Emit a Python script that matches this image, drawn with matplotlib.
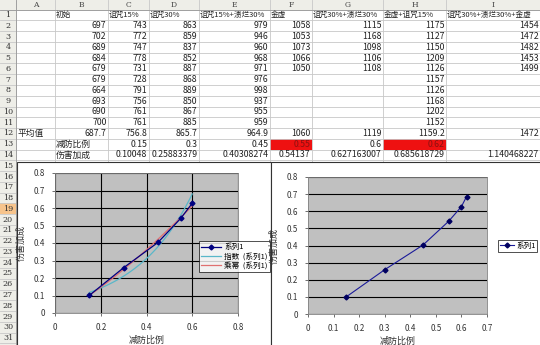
import numpy as np
import matplotlib
matplotlib.use("Agg")
import matplotlib.pyplot as plt
from matplotlib.patches import Rectangle

plt.rcParams['font.family'] = ['Noto Sans CJK SC', 'DejaVu Sans']

# ---------------- data ----------------
col_letters = ["A", "B", "C", "D", "E", "F", "G", "H", "I"]
headers = ["", "初始", "诅咒15%", "诅咒30%", "诅咒15%+溃烂30%", "金虚",
           "诅咒30%+溃烂30%", "金虚+诅咒15%", "诅咒30%+溃烂30%+金虚"]
col_B = [697, 702, 689, 684, 679, 679, 664, 693, 690, 700]
col_C = [743, 772, 747, 778, 731, 728, 791, 756, 761, 761]
col_D = [863, 859, 837, 852, 887, 868, 889, 850, 867, 885]
col_E = [979, 946, 960, 968, 971, 976, 998, 937, 955, 959]
col_F = [1058, 1053, 1073, 1066, 1050]
col_G = [1115, 1168, 1098, 1106, 1108]
col_H = [1175, 1127, 1150, 1209, 1126, 1157, 1126, 1168, 1202, 1152]
col_I = [1454, 1472, 1482, 1453, 1499]
averages = ["687.7", "756.8", "865.7", "964.9", "1060", "1119", "1159.2", "1472"]
def_ratio = [0.15, 0.3, 0.45, 0.55, 0.6, 0.62]
def_ratio_txt = ["0.15", "0.3", "0.45", "0.55", "0.6", "0.62"]
dmg_bonus = [0.10048, 0.25883379, 0.40308274, 0.54137, 0.627163007, 0.685618729]
dmg_bonus_txt = ["0.10048", "0.25883379", "0.40308274", "0.54137",
                 "0.627163007", "0.685618729", "1.140468227"]
left_n = 5  # left chart uses first 5 points
x_ticks_left = [0, 0.2, 0.4, 0.6, 0.8]
x_ticks_right = [0, 0.1, 0.2, 0.3, 0.4, 0.5, 0.6, 0.7]
y_ticks = [0, 0.1, 0.2, 0.3, 0.4, 0.5, 0.6, 0.7, 0.8]

W, H = 540, 345
fig = plt.figure(figsize=(W / 100, H / 100), dpi=100)
base = fig.add_axes([0, 0, 1, 1])
base.set_xlim(0, W)
base.set_ylim(H, 0)
base.axis('off')


def rect(x0, y0, x1, y1):
    return [x0 / W, 1 - y1 / H, (x1 - x0) / W, (y1 - y0) / H]


col_edges = [16, 55, 108, 149, 199, 270, 312, 383, 446, 540]
hdr_h = 9.6
row_h = 10.77
def row_top(i):
    return hdr_h + (i - 1) * row_h
def row_mid(i):
    return row_top(i) + row_h / 2

grid_c = '#c8c8c8'
hdr_bg = '#eeeee8'
# header backgrounds
base.add_patch(Rectangle((0, 0), W, hdr_h, facecolor=hdr_bg, edgecolor='none', zorder=1))
base.add_patch(Rectangle((0, 0), 16, H, facecolor=hdr_bg, edgecolor='none', zorder=1))
base.add_patch(Rectangle((0, row_top(19)), 16, row_h, facecolor='#f7c48c', edgecolor='none', zorder=1.5))
# red cells
for ci in (5, 7):
    base.add_patch(Rectangle((col_edges[ci], row_top(13)), col_edges[ci + 1] - col_edges[ci], row_h,
                             facecolor='#ee1111', edgecolor='none', zorder=1.5))

# grid lines
for x in col_edges:
    base.plot([x, x], [0, H], color=grid_c, lw=0.6, zorder=2)
for i in range(1, 34):
    y = row_top(i)
    base.plot([0, W], [y, y], color=grid_c, lw=0.6, zorder=2)
base.plot([0, W], [hdr_h, hdr_h], color='#999999', lw=0.6, zorder=2)
base.plot([16, 16], [0, H], color='#999999', lw=0.6, zorder=2)

fs = 6.3
tc = '#222222'
# column letters
for k, L in enumerate(col_letters):
    base.text((col_edges[k] + col_edges[k + 1]) / 2, hdr_h / 2, L, ha='center', va='center',
              fontsize=5.5, color='#444444', zorder=3, family=['DejaVu Serif'])
# row numbers
for i in range(1, 32):
    base.text(8, row_mid(i), str(i), ha='center', va='center', fontsize=5.8, color='#333333',
              zorder=3, family=['DejaVu Serif'])


def put(ci, ri, s, align='right', color=tc, size=fs):
    if align == 'right':
        base.text(col_edges[ci + 1] - 1.5, row_mid(ri), s, ha='right', va='center',
                  fontsize=size, color=color, zorder=3)
    else:
        base.text(col_edges[ci] + 1.0, row_mid(ri), s, ha='left', va='center',
                  fontsize=size, color=color, zorder=3)


for ci, h in enumerate(headers):
    if h:
        put(ci, 1, h, align='left', size=5.5)
for ci, col in zip(range(1, 9), [col_B, col_C, col_D, col_E, col_F, col_G, col_H, col_I]):
    for r, v in enumerate(col):
        put(ci, r + 2, str(v))
put(0, 12, "平均值", align='left')
for k, s in enumerate(averages):
    put(k + 1, 12, s)
put(1, 13, "减防比例", align='left')
for k, s in enumerate(def_ratio_txt):
    put(k + 2, 13, s, color='#8a1010' if k in (3, 5) else tc)
put(1, 14, "伤害加成", align='left')
for k, s in enumerate(dmg_bonus_txt):
    put(k + 2, 14, s)

# chart backgrounds
base.add_patch(Rectangle((17, 162), 271 - 17, H - 162 + 2, facecolor='white', edgecolor='#333333',
                         lw=0.8, zorder=5))
base.add_patch(Rectangle((271, 162), W - 271 + 2, H - 162 + 2, facecolor='white', edgecolor='#333333',
                         lw=0.8, zorder=5))

tick_c = '#333333'

# ---------------- left chart ----------------
axL = fig.add_axes(rect(55, 173, 238, 313))
axL.set_facecolor('#c0c0c0')
axL.set_xlim(0, 0.8)
axL.set_ylim(0, 0.8)
axL.set_xticks(x_ticks_left)
axL.set_xticklabels([f"{v:g}" for v in x_ticks_left])
axL.set_yticks(y_ticks)
axL.set_yticklabels([f"{v:g}" for v in y_ticks])
axL.grid(True, color='black', lw=0.8)
axL.set_axisbelow(True)
for s in axL.spines.values():
    s.set_color('#808080')
    s.set_linewidth(0.6)
axL.tick_params(labelsize=5.8, colors=tick_c, length=2, width=0.5, pad=5)

xl = np.array(def_ratio[:left_n])
yl = np.array(dmg_bonus[:left_n])
axL.plot(xl, yl, color='#000080', lw=0.9, marker='D', ms=2.5, label='系列1', zorder=4)
xs = np.linspace(xl.min(), xl.max(), 100)
b_e, ln_a_e = np.polyfit(xl, np.log(yl), 1)
axL.plot(xs, np.exp(ln_a_e) * np.exp(b_e * xs), color='#59b7c9', lw=0.9, label='指数  (系列1)', zorder=3)
b_p, ln_a_p = np.polyfit(np.log(xl), np.log(yl), 1)
axL.plot(xs, np.exp(ln_a_p) * xs ** b_p, color='#e07070', lw=0.9, label='乘幂  (系列1)', zorder=3)
axL.set_xlabel("减防比例", fontsize=6.5, color=tick_c, labelpad=3)
axL.set_ylabel("伤害加成", fontsize=6.5, color=tick_c, labelpad=6)
legL = axL.legend(loc='upper left', bbox_to_anchor=((199 - 55) / (238 - 55), 1 - (241 - 173) / 140),
                  fontsize=5.5, frameon=True, fancybox=False, borderpad=0.3, labelspacing=0.15,
                  handlelength=2.6, handletextpad=0.4, borderaxespad=0)
legL.get_frame().set_edgecolor('black')
legL.get_frame().set_linewidth(0.6)

# ---------------- right chart ----------------
axR = fig.add_axes(rect(308, 177, 487, 314))
axR.set_facecolor('#c0c0c0')
axR.set_xlim(0, 0.7)
axR.set_ylim(0, 0.8)
axR.set_xticks(x_ticks_right)
axR.set_xticklabels([f"{v:g}" for v in x_ticks_right])
axR.set_yticks(y_ticks)
axR.set_yticklabels([f"{v:g}" for v in y_ticks])
axR.yaxis.grid(True, color='black', lw=0.8)
axR.set_axisbelow(True)
for s in axR.spines.values():
    s.set_color('#808080')
    s.set_linewidth(0.6)
axR.tick_params(labelsize=5.8, colors=tick_c, length=2, width=0.5, pad=5)
axR.plot(def_ratio, dmg_bonus, color='#1a1a99', lw=0.8, marker='D', ms=2.5,
         mfc='#000060', mec='#000060', label='系列1')
axR.set_xlabel("减防比例", fontsize=6.5, color=tick_c, labelpad=3)
axR.set_ylabel("伤害加成", fontsize=6.5, color=tick_c, labelpad=6)
legR = axR.legend(loc='upper left', bbox_to_anchor=((498 - 308) / (487 - 308), 1 - (240 - 177) / 137),
                  fontsize=5.5, frameon=True, fancybox=False, borderpad=0.25,
                  handlelength=1.8, handletextpad=0.3, borderaxespad=0)
legR.get_frame().set_edgecolor('black')
legR.get_frame().set_linewidth(0.6)

fig.savefig("out.png", dpi=100)
